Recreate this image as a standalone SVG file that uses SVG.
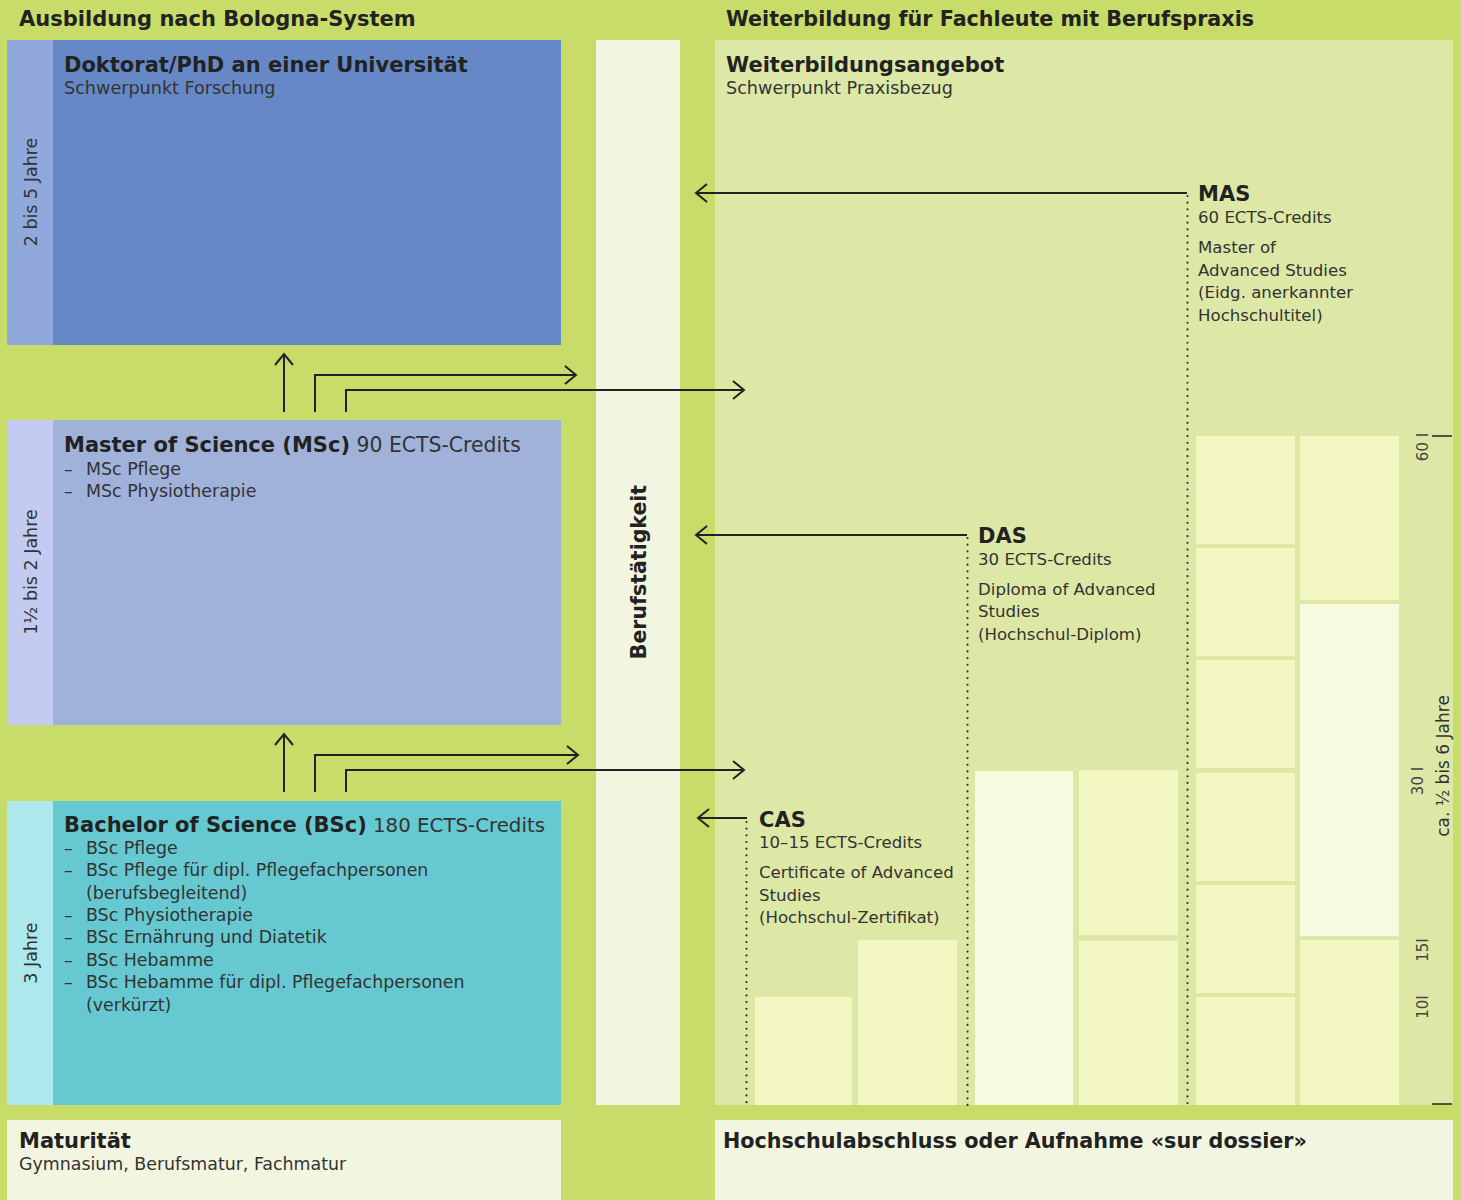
<svg xmlns="http://www.w3.org/2000/svg" width="1461" height="1200" viewBox="0 0 1461 1200">
<defs>
<style>
.b{font-family:"DejaVu Sans","Liberation Sans",sans-serif;font-weight:bold;fill:#222;font-size:21px}
.r{font-family:"DejaVu Sans","Liberation Sans",sans-serif;fill:#333;font-size:17.4px}
.sub{font-size:17.6px}
.rd{font-family:"DejaVu Sans","Liberation Sans",sans-serif;fill:#333;font-size:16.6px}
.rl{font-family:"DejaVu Sans","Liberation Sans",sans-serif;fill:#333;font-size:20.4px;font-weight:normal}
.side{font-family:"DejaVu Sans","Liberation Sans",sans-serif;fill:#333;font-size:17.5px}
.sc{font-family:"DejaVu Sans","Liberation Sans",sans-serif;fill:#444;font-size:15px}
.blk{fill:#f3f7c2}
.blk2{fill:#f7fade}
.ln{fill:none;stroke:#222;stroke-width:2}
.dot{fill:none;stroke:#333;stroke-width:2.2;stroke-linecap:round;stroke-dasharray:0 6.67}
</style>
<marker id="chev" viewBox="-13 -11 15 22" markerWidth="15" markerHeight="22" refX="0" refY="0" orient="auto" markerUnits="userSpaceOnUse">
<path d="M-11,-9 L0,0 L-11,9" fill="none" stroke="#222" stroke-width="2"/>
</marker>
</defs>
<rect x="0" y="0" width="1461" height="1200" fill="#c8dc6a"/>
<text class="b" x="19" y="26">Ausbildung nach Bologna-System</text>
<text class="b" x="726" y="26" style="font-size:20.7px">Weiterbildung für Fachleute mit Berufspraxis</text>

<g id="doktorat">
<rect x="7" y="40" width="554" height="305" fill="#6688c6"/>
<rect x="7" y="40" width="46" height="305" fill="#90a8dc"/>
<text class="side" transform="translate(37,192) rotate(-90)" text-anchor="middle">2 bis 5 Jahre</text>
<text class="b" x="64" y="72">Doktorat/PhD an einer Universität</text>
<text class="r sub" x="64" y="94">Schwerpunkt Forschung</text>
</g>

<g id="master">
<rect x="7" y="420" width="554" height="305" fill="#a0b2da"/>
<rect x="7" y="420" width="46" height="305" fill="#c3ccf0"/>
<text class="side" transform="translate(37,572) rotate(-90)" text-anchor="middle">1½ bis 2 Jahre</text>
<text class="b" x="64" y="452">Master of Science (MSc)<tspan class="rl"> 90 ECTS-Credits</tspan></text>
<text class="r" x="64" y="475">–</text><text class="r" x="86" y="475">MSc Pflege</text>
<text class="r" x="64" y="497">–</text><text class="r" x="86" y="497">MSc Physiotherapie</text>
</g>

<g id="bachelor">
<rect x="7" y="801" width="554" height="304" fill="#66c9d1"/>
<rect x="7" y="801" width="46" height="304" fill="#ade8ed"/>
<text class="side" transform="translate(37,953) rotate(-90)" text-anchor="middle">3 Jahre</text>
<text class="b" x="64" y="832">Bachelor of Science (BSc)<tspan class="rl" style="font-size:19.8px"> 180 ECTS-Credits</tspan></text>
<text class="r" x="64" y="854">–</text><text class="r" x="86" y="854">BSc Pflege</text>
<text class="r" x="64" y="876">–</text><text class="r" x="86" y="876">BSc Pflege für dipl. Pflegefachpersonen</text>
<text class="r" x="86" y="899">(berufsbegleitend)</text>
<text class="r" x="64" y="921">–</text><text class="r" x="86" y="921">BSc Physiotherapie</text>
<text class="r" x="64" y="943">–</text><text class="r" x="86" y="943">BSc Ernährung und Diatetik</text>
<text class="r" x="64" y="966">–</text><text class="r" x="86" y="966">BSc Hebamme</text>
<text class="r" x="64" y="988">–</text><text class="r" x="86" y="988">BSc Hebamme für dipl. Pflegefachpersonen</text>
<text class="r" x="86" y="1011">(verkürzt)</text>
</g>

<g id="berufstaetigkeit">
<rect x="596" y="40" width="84" height="1065" fill="#f2f6e0"/>
<text class="b" transform="translate(646,572) rotate(-90)" text-anchor="middle" style="font-size:20.5px">Berufstätigkeit</text>
</g>

<g id="weiterbildung">
<rect x="715" y="40" width="738" height="1065" fill="#dde8a6"/>
<text class="b" x="726" y="72">Weiterbildungsangebot</text>
<text class="r sub" x="726" y="94">Schwerpunkt Praxisbezug</text>
</g>

<g id="cas">
<rect class="blk" x="755" y="997" width="97" height="108"/>
<rect class="blk" x="858" y="940" width="99" height="165"/>
<text class="b" x="759" y="827">CAS</text>
<text class="rd" x="759" y="848">10–15 ECTS-Credits</text>
<text class="rd" x="759" y="878">Certificate of Advanced</text>
<text class="rd" x="759" y="901">Studies</text>
<text class="rd" x="759" y="923">(Hochschul-Zertifikat)</text>
</g>

<g id="das">
<rect class="blk2" x="975" y="771" width="98" height="334"/>
<rect class="blk" x="1079" y="770" width="99" height="165"/>
<rect class="blk" x="1079" y="941" width="99" height="164"/>
<text class="b" x="978" y="543">DAS</text>
<text class="rd" x="978" y="565">30 ECTS-Credits</text>
<text class="rd" x="978" y="595">Diploma of Advanced</text>
<text class="rd" x="978" y="617">Studies</text>
<text class="rd" x="978" y="640">(Hochschul-Diplom)</text>
</g>

<g id="mas">
<rect class="blk" x="1196" y="436" width="99" height="108"/>
<rect class="blk" x="1196" y="548" width="99" height="108"/>
<rect class="blk" x="1196" y="660" width="99" height="108"/>
<rect class="blk" x="1196" y="773" width="99" height="108"/>
<rect class="blk" x="1196" y="885" width="99" height="108"/>
<rect class="blk" x="1196" y="997" width="99" height="108"/>
<rect class="blk" x="1300" y="436" width="99" height="164"/>
<rect class="blk2" x="1300" y="604" width="99" height="332"/>
<rect class="blk" x="1300" y="940" width="99" height="165"/>
<text class="b" x="1198" y="201">MAS</text>
<text class="rd" x="1198" y="223">60 ECTS-Credits</text>
<text class="rd" x="1198" y="253">Master of</text>
<text class="rd" x="1198" y="276">Advanced Studies</text>
<text class="rd" x="1198" y="298">(Eidg. anerkannter</text>
<text class="rd" x="1198" y="321">Hochschultitel)</text>
</g>

<g id="skala">
<line x1="1432" y1="436" x2="1452" y2="436" stroke="#222" stroke-width="1.5"/>
<line x1="1432" y1="1104" x2="1452" y2="1104" stroke="#222" stroke-width="1.5"/>
<text class="sc" transform="translate(1428,447) rotate(-90)" text-anchor="middle">60 I</text>
<text class="sc" transform="translate(1423,781) rotate(-90)" text-anchor="middle">30 I</text>
<text class="sc" transform="translate(1428,950) rotate(-90)" text-anchor="middle">15I</text>
<text class="sc" transform="translate(1428,1007) rotate(-90)" text-anchor="middle">10I</text>
<text class="side" transform="translate(1449,766) rotate(-90)" text-anchor="middle" style="font-size:17px">ca. ½ bis 6 Jahre</text>
</g>

<g id="maturitaet">
<rect x="7" y="1120" width="554" height="80" fill="#f2f6e0"/>
<text class="b" x="19" y="1148">Maturität</text>
<text class="r" x="19" y="1170">Gymnasium, Berufsmatur, Fachmatur</text>
</g>

<g id="hochschulabschluss">
<rect x="715" y="1120" width="738" height="80" fill="#f2f6e0"/>
<text class="b" x="723" y="1148" style="font-size:20.7px">Hochschulabschluss oder Aufnahme «sur dossier»</text>
</g>

<g id="connectors">
<path class="ln" d="M284,412 V354" marker-end="url(#chev)"/>
<path class="ln" d="M315,412 V375 H576" marker-end="url(#chev)"/>
<path class="ln" d="M346,412 V390 H744" marker-end="url(#chev)"/>
<path class="ln" d="M284,792 V734" marker-end="url(#chev)"/>
<path class="ln" d="M315,792 V755 H578" marker-end="url(#chev)"/>
<path class="ln" d="M346,792 V770 H744" marker-end="url(#chev)"/>
<path class="ln" d="M1187,193 H696" marker-end="url(#chev)"/>
<path class="ln" d="M967,535 H696" marker-end="url(#chev)"/>
<path class="ln" d="M747,818 H698" marker-end="url(#chev)"/>
<path class="dot" d="M1187.5,196 V1105"/>
<path class="dot" d="M967.5,538 V1105"/>
<path class="dot" d="M746.5,822 V1105"/>
</g>
</svg>
